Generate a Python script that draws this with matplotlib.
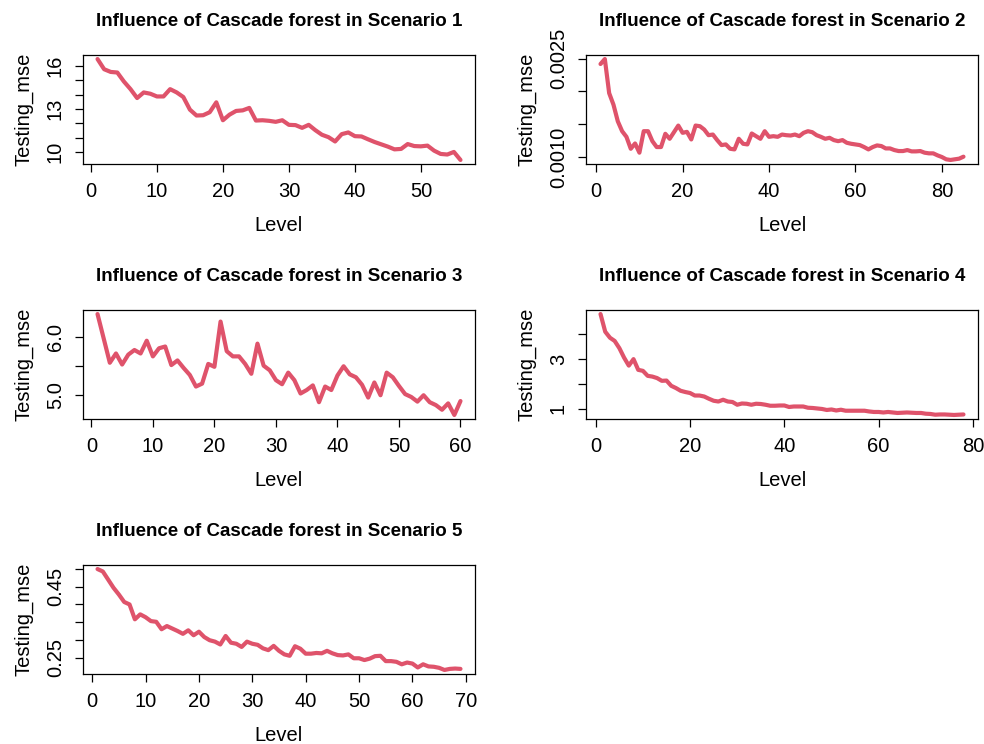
import numpy as np
import matplotlib
matplotlib.use("Agg")
import matplotlib.pyplot as plt

plt.rcParams['font.family'] = ['Liberation Sans', 'DejaVu Sans']

# testing mse per cascade level
mse_s1 = [16.48, 15.77, 15.58, 15.54, 14.91, 14.38, 13.76, 14.15, 14.06, 13.87,
          13.87, 14.38, 14.15, 13.83, 12.95, 12.54, 12.56, 12.77, 13.46, 12.21,
          12.60, 12.86, 12.90, 13.07, 12.19, 12.21, 12.17, 12.10, 12.21, 11.89,
          11.87, 11.68, 11.89, 11.52, 11.20, 11.03, 10.73, 11.24, 11.36, 11.10,
          11.08, 10.88, 10.69, 10.53, 10.37, 10.18, 10.21, 10.55, 10.41, 10.39,
          10.44, 10.09, 9.86, 9.82, 10.00, 9.44]

mse_s2 = [0.002419, 0.002495, 0.001975, 0.001798, 0.001545, 0.001394, 0.001308,
          0.001126, 0.001207, 0.001066, 0.001394, 0.001394, 0.001242, 0.001152,
          0.001152, 0.001354, 0.001278, 0.001379, 0.001480, 0.001369, 0.001384,
          0.001268, 0.001480, 0.001470, 0.001419, 0.001333, 0.001343, 0.001258,
          0.001182, 0.001192, 0.001126, 0.001116, 0.001278, 0.001202, 0.001192,
          0.001359, 0.001318, 0.001278, 0.001394, 0.001308, 0.001318, 0.001308,
          0.001343, 0.001333, 0.001328, 0.001343, 0.001318, 0.001369, 0.001394,
          0.001379, 0.001333, 0.001308, 0.001278, 0.001293, 0.001258, 0.001242,
          0.001258, 0.001217, 0.001202, 0.001192, 0.001182, 0.001152, 0.001116,
          0.001152, 0.001177, 0.001167, 0.001131, 0.001131, 0.001106, 0.001091,
          0.001091, 0.001106, 0.001086, 0.001086, 0.001091, 0.001066, 0.001056,
          0.001056, 0.001025, 0.001000, 0.000965, 0.000955, 0.000965, 0.000975,
          0.001005]

mse_s3 = [6.40, 5.98, 5.56, 5.72, 5.53, 5.70, 5.78, 5.72, 5.94, 5.67,
          5.81, 5.84, 5.52, 5.60, 5.47, 5.35, 5.15, 5.20, 5.54, 5.49,
          6.27, 5.76, 5.67, 5.67, 5.54, 5.37, 5.89, 5.51, 5.43, 5.26,
          5.19, 5.39, 5.26, 5.03, 5.09, 5.17, 4.88, 5.15, 5.09, 5.34,
          5.50, 5.36, 5.31, 5.18, 4.96, 5.22, 5.00, 5.39, 5.31, 5.16,
          5.02, 4.97, 4.89, 5.00, 4.88, 4.83, 4.75, 4.86, 4.66, 4.90]

mse_s4 = [4.80, 4.09, 3.85, 3.72, 3.43, 3.05, 2.73, 2.99, 2.56, 2.52,
          2.32, 2.29, 2.23, 2.12, 2.13, 1.92, 1.83, 1.72, 1.67, 1.63,
          1.53, 1.53, 1.49, 1.40, 1.32, 1.29, 1.36, 1.29, 1.27, 1.16,
          1.21, 1.20, 1.16, 1.20, 1.19, 1.16, 1.12, 1.12, 1.13, 1.13,
          1.07, 1.09, 1.09, 1.09, 1.04, 1.03, 1.01, 0.99, 0.95, 0.97,
          0.93, 0.96, 0.92, 0.92, 0.92, 0.92, 0.92, 0.89, 0.87, 0.87,
          0.85, 0.87, 0.85, 0.83, 0.84, 0.85, 0.84, 0.83, 0.83, 0.80,
          0.79, 0.76, 0.77, 0.77, 0.76, 0.75, 0.76, 0.77]

mse_s5 = [0.500, 0.493, 0.470, 0.447, 0.428, 0.407, 0.400, 0.358, 0.372, 0.364,
          0.353, 0.351, 0.330, 0.339, 0.332, 0.325, 0.317, 0.327, 0.313, 0.323,
          0.308, 0.299, 0.295, 0.287, 0.311, 0.292, 0.289, 0.280, 0.295, 0.289,
          0.286, 0.276, 0.271, 0.283, 0.269, 0.259, 0.255, 0.282, 0.275, 0.261,
          0.261, 0.263, 0.262, 0.269, 0.262, 0.257, 0.256, 0.259, 0.248, 0.248,
          0.243, 0.247, 0.254, 0.255, 0.240, 0.240, 0.238, 0.231, 0.236, 0.233,
          0.222, 0.231, 0.225, 0.224, 0.221, 0.215, 0.218, 0.219, 0.218]

# y ticks and which of them carry a label (R drops overlapping ones)
yticks = [
    ([10, 11, 12, 13, 14, 15, 16], ["10", "", "", "13", "", "", "16"]),
    ([0.0010, 0.0015, 0.0020, 0.0025], ["0.0010", "", "", "0.0025"]),
    ([5.0, 5.5, 6.0], ["5.0", "", "6.0"]),
    ([1, 2, 3, 4], ["1", "", "3", ""]),
    ([0.25, 0.30, 0.35, 0.40, 0.45, 0.50], ["0.25", "", "", "", "0.45", ""]),
]
xstep = [10, 20, 10, 20, 10]
series = [mse_s1, mse_s2, mse_s3, mse_s4, mse_s5]

line_col = "#DF536B"

fig = plt.figure(figsize=(9.84, 7.44), dpi=100)
W, H = 984, 744
lefts = [83, 586]
tops = [55, 310, 565]
aw, ah = 392, 109

for k, y in enumerate(series):
    col = k % 2
    row = k // 2
    ax = fig.add_axes([lefts[col] / W, 1 - (tops[row] + ah) / H, aw / W, ah / H])
    x = np.arange(1, len(y) + 1)
    ax.plot(x, y, color=line_col, lw=3.0, solid_capstyle='round', solid_joinstyle='round')

    # R style 4% padding
    xr = x.max() - x.min()
    ax.set_xlim(x.min() - 0.04 * xr, x.max() + 0.04 * xr)
    yr = max(y) - min(y)
    ax.set_ylim(min(y) - 0.04 * yr, max(y) + 0.04 * yr)

    ax.set_xticks(np.arange(0, x.max() + 0.04 * xr, xstep[k]))
    ax.set_xticklabels([str(int(v)) for v in ax.get_xticks()])
    ax.set_yticks(yticks[k][0])
    ax.set_yticklabels(yticks[k][1])

    ax.tick_params(axis='both', direction='out', length=6, width=0.9, labelsize=14.5)
    ax.tick_params(axis='x', pad=7)
    ax.tick_params(axis='y', labelrotation=90, pad=7)
    for lab in ax.get_yticklabels():
        lab.set_verticalalignment('center')

    for s in ax.spines.values():
        s.set_linewidth(0.9)

    ax.set_xlabel("Level", fontsize=14.5, labelpad=11)
    ax.set_ylabel("Testing_mse", fontsize=14.5, labelpad=9)
    ax.set_title("Influence of Cascade forest in Scenario %d" % (k + 1),
                 fontsize=13.5, fontweight='bold', pad=21)

fig.savefig("out.png", dpi=100)
